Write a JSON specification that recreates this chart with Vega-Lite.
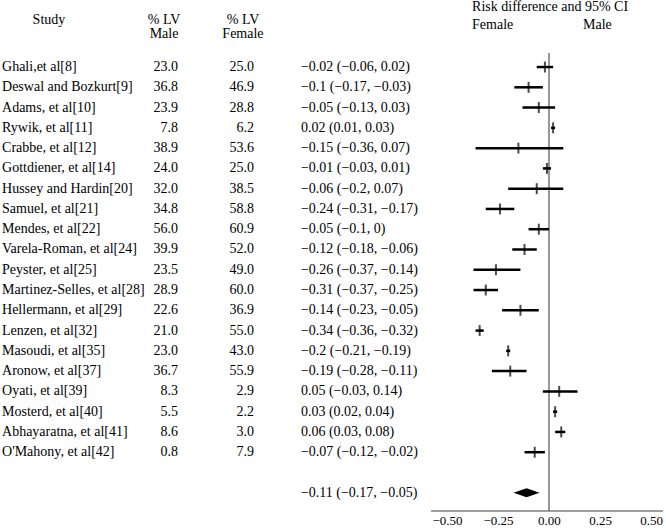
{
  "$schema": "https://vega.github.io/schema/vega-lite/v6.json",
  "width": 666,
  "height": 511,
  "autosize": {"type": "none"},
  "padding": {"left": 0, "top": 0, "right": 0, "bottom": 18},
  "background": "white",
  "config": {"view": {"stroke": null}, "font": "Liberation Serif", "text": {"font": "Liberation Serif", "fontSize": 14, "color": "black"}},
  "datasets": {
    "studies": [
      {"row": 1, "study": "Ghali,et al[8]", "male": "23.0", "female": "25.0", "est": -0.02, "lo": -0.06, "hi": 0.02, "label": "−0.02 (−0.06, 0.02)"},
      {"row": 2, "study": "Deswal and Bozkurt[9]", "male": "36.8", "female": "46.9", "est": -0.1, "lo": -0.17, "hi": -0.03, "label": "−0.1 (−0.17, −0.03)"},
      {"row": 3, "study": "Adams, et al[10]", "male": "23.9", "female": "28.8", "est": -0.05, "lo": -0.13, "hi": 0.03, "label": "−0.05 (−0.13, 0.03)"},
      {"row": 4, "study": "Rywik, et al[11]", "male": "7.8", "female": "6.2", "est": 0.02, "lo": 0.01, "hi": 0.03, "label": "0.02 (0.01, 0.03)"},
      {"row": 5, "study": "Crabbe, et al[12]", "male": "38.9", "female": "53.6", "est": -0.15, "lo": -0.36, "hi": 0.07, "label": "−0.15 (−0.36, 0.07)"},
      {"row": 6, "study": "Gottdiener, et al[14]", "male": "24.0", "female": "25.0", "est": -0.01, "lo": -0.03, "hi": 0.01, "label": "−0.01 (−0.03, 0.01)"},
      {"row": 7, "study": "Hussey and Hardin[20]", "male": "32.0", "female": "38.5", "est": -0.06, "lo": -0.2, "hi": 0.07, "label": "−0.06 (−0.2, 0.07)"},
      {"row": 8, "study": "Samuel, et al[21]", "male": "34.8", "female": "58.8", "est": -0.24, "lo": -0.31, "hi": -0.17, "label": "−0.24 (−0.31, −0.17)"},
      {"row": 9, "study": "Mendes, et al[22]", "male": "56.0", "female": "60.9", "est": -0.05, "lo": -0.1, "hi": 0, "label": "−0.05 (−0.1, 0)"},
      {"row": 10, "study": "Varela-Roman, et al[24]", "male": "39.9", "female": "52.0", "est": -0.12, "lo": -0.18, "hi": -0.06, "label": "−0.12 (−0.18, −0.06)"},
      {"row": 11, "study": "Peyster, et al[25]", "male": "23.5", "female": "49.0", "est": -0.26, "lo": -0.37, "hi": -0.14, "label": "−0.26 (−0.37, −0.14)"},
      {"row": 12, "study": "Martinez-Selles, et al[28]", "male": "28.9", "female": "60.0", "est": -0.31, "lo": -0.37, "hi": -0.25, "label": "−0.31 (−0.37, −0.25)"},
      {"row": 13, "study": "Hellermann, et al[29]", "male": "22.6", "female": "36.9", "est": -0.14, "lo": -0.23, "hi": -0.05, "label": "−0.14 (−0.23, −0.05)"},
      {"row": 14, "study": "Lenzen, et al[32]", "male": "21.0", "female": "55.0", "est": -0.34, "lo": -0.36, "hi": -0.32, "label": "−0.34 (−0.36, −0.32)"},
      {"row": 15, "study": "Masoudi, et al[35]", "male": "23.0", "female": "43.0", "est": -0.2, "lo": -0.21, "hi": -0.19, "label": "−0.2 (−0.21, −0.19)"},
      {"row": 16, "study": "Aronow, et al[37]", "male": "36.7", "female": "55.9", "est": -0.19, "lo": -0.28, "hi": -0.11, "label": "−0.19 (−0.28, −0.11)"},
      {"row": 17, "study": "Oyati, et al[39]", "male": "8.3", "female": "2.9", "est": 0.05, "lo": -0.03, "hi": 0.14, "label": "0.05 (−0.03, 0.14)"},
      {"row": 18, "study": "Mosterd, et al[40]", "male": "5.5", "female": "2.2", "est": 0.03, "lo": 0.02, "hi": 0.04, "label": "0.03 (0.02, 0.04)"},
      {"row": 19, "study": "Abhayaratna, et al[41]", "male": "8.6", "female": "3.0", "est": 0.06, "lo": 0.03, "hi": 0.08, "label": "0.06 (0.03, 0.08)"},
      {"row": 20, "study": "O'Mahony, et al[42]", "male": "0.8", "female": "7.9", "est": -0.07, "lo": -0.12, "hi": -0.02, "label": "−0.07 (−0.12, −0.02)"}
    ],
    "overall": [
      {"row": 22, "est": -0.11, "lo": -0.17, "hi": -0.05, "label": "−0.11 (−0.17, −0.05)"}
    ],
    "one": [{}]
  },
  "layer": [
    {
      "data": {"name": "one"},
      "mark": {"type": "rule", "color": "#777777", "strokeWidth": 1.5},
      "encoding": {
        "x": {"datum": 0, "type": "quantitative", "scale": {"domain": [-2.691, 0.5735], "nice": false, "zero": false}, "axis": {"values": [-0.5, -0.25, 0, 0.25, 0.5], "format": ".2f", "domain": false, "ticks": false, "grid": false, "title": null, "labelFont": "Liberation Serif", "labelFontSize": 13, "labelColor": "black", "labelPadding": 3}},
        "y": {"datum": 0.31, "type": "quantitative", "scale": {"domain": [-2.307, 22.9], "reverse": true, "nice": false, "zero": false}, "axis": null},
        "y2": {"datum": 22.9}
      }
    },
    {
      "data": {"name": "one"},
      "mark": {"type": "rule", "color": "#404040", "strokeWidth": 1.2},
      "encoding": {
        "x": {"datum": -0.578, "type": "quantitative"},
        "x2": {"datum": 0.559},
        "y": {"datum": 22.9, "type": "quantitative"}
      }
    },
    {
      "data": {"name": "studies"},
      "mark": {"type": "rule", "color": "black", "strokeWidth": 2.5},
      "encoding": {
        "x": {"field": "lo", "type": "quantitative"},
        "x2": {"field": "hi"},
        "y": {"field": "row", "type": "quantitative"}
      }
    },
    {
      "data": {"name": "studies"},
      "mark": {"type": "tick", "orient": "vertical", "color": "black", "size": 11, "thickness": 2},
      "encoding": {
        "x": {"field": "est", "type": "quantitative"},
        "y": {"field": "row", "type": "quantitative"}
      }
    },
    {
      "data": {"name": "studies"},
      "mark": {"type": "text", "align": "left", "baseline": "middle", "font": "Liberation Serif", "fontSize": 14},
      "encoding": {
        "x": {"datum": -2.681, "type": "quantitative"},
        "y": {"field": "row", "type": "quantitative"},
        "text": {"field": "study"}
      }
    },
    {
      "data": {"name": "studies"},
      "mark": {"type": "text", "align": "right", "baseline": "middle", "font": "Liberation Serif", "fontSize": 14},
      "encoding": {
        "x": {"datum": -1.819, "type": "quantitative"},
        "y": {"field": "row", "type": "quantitative"},
        "text": {"field": "male"}
      }
    },
    {
      "data": {"name": "studies"},
      "mark": {"type": "text", "align": "right", "baseline": "middle", "font": "Liberation Serif", "fontSize": 14},
      "encoding": {
        "x": {"datum": -1.446, "type": "quantitative"},
        "y": {"field": "row", "type": "quantitative"},
        "text": {"field": "female"}
      }
    },
    {
      "data": {"name": "studies"},
      "mark": {"type": "text", "align": "left", "baseline": "middle", "font": "Liberation Serif", "fontSize": 14},
      "encoding": {
        "x": {"datum": -1.216, "type": "quantitative"},
        "y": {"field": "row", "type": "quantitative"},
        "text": {"field": "label"}
      }
    },
    {
      "data": {"name": "overall"},
      "mark": {"type": "point", "shape": "M-1,0L0,-0.35L1,0L0,0.35Z", "size": 676, "filled": true, "color": "black", "opacity": 1},
      "encoding": {
        "x": {"field": "est", "type": "quantitative"},
        "y": {"field": "row", "type": "quantitative"}
      }
    },
    {
      "data": {"name": "overall"},
      "mark": {"type": "text", "align": "left", "baseline": "middle", "font": "Liberation Serif", "fontSize": 14},
      "encoding": {
        "x": {"datum": -1.216, "type": "quantitative"},
        "y": {"field": "row", "type": "quantitative"},
        "text": {"field": "label"}
      }
    },
    {
      "data": {"name": "one"},
      "mark": {"type": "text", "align": "center", "baseline": "middle", "font": "Liberation Serif", "fontSize": 14, "text": "Study"},
      "encoding": {
        "x": {"datum": -2.451, "type": "quantitative"},
        "y": {"datum": -1.32, "type": "quantitative"}
      }
    },
    {
      "data": {"name": "one"},
      "mark": {"type": "text", "align": "center", "baseline": "top", "font": "Liberation Serif", "fontSize": 14, "lineHeight": 14, "text": ["% LV", "Male"]},
      "encoding": {
        "x": {"datum": -1.887, "type": "quantitative"},
        "y": {"datum": -1.69, "type": "quantitative"}
      }
    },
    {
      "data": {"name": "one"},
      "mark": {"type": "text", "align": "center", "baseline": "top", "font": "Liberation Serif", "fontSize": 14, "lineHeight": 14, "text": ["% LV", "Female"]},
      "encoding": {
        "x": {"datum": -1.5, "type": "quantitative"},
        "y": {"datum": -1.69, "type": "quantitative"}
      }
    },
    {
      "data": {"name": "one"},
      "mark": {"type": "text", "align": "left", "baseline": "middle", "font": "Liberation Serif", "fontSize": 14, "text": "Risk difference and 95% CI"},
      "encoding": {
        "x": {"datum": -0.377, "type": "quantitative"},
        "y": {"datum": -1.961, "type": "quantitative"}
      }
    },
    {
      "data": {"name": "one"},
      "mark": {"type": "text", "align": "left", "baseline": "middle", "font": "Liberation Serif", "fontSize": 14, "text": "Female"},
      "encoding": {
        "x": {"datum": -0.377, "type": "quantitative"},
        "y": {"datum": -1.073, "type": "quantitative"}
      }
    },
    {
      "data": {"name": "one"},
      "mark": {"type": "text", "align": "left", "baseline": "middle", "font": "Liberation Serif", "fontSize": 14, "text": "Male"},
      "encoding": {
        "x": {"datum": 0.167, "type": "quantitative"},
        "y": {"datum": -1.073, "type": "quantitative"}
      }
    }
  ]
}
